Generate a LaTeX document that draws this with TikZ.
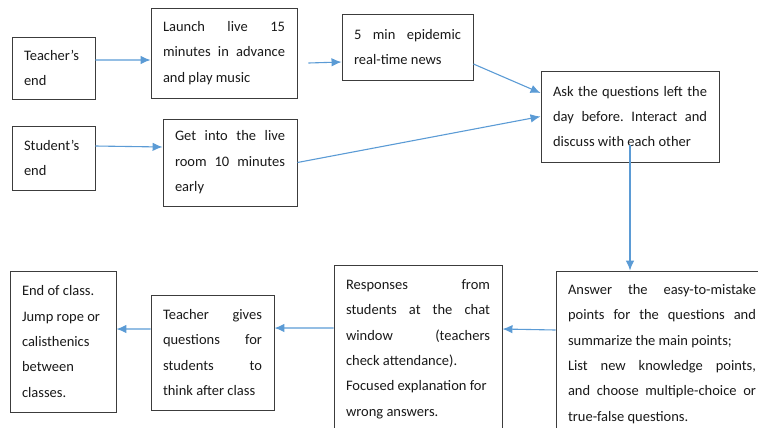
\documentclass[tikz,border=0pt]{standalone}
\usepackage{fontspec}
\setmainfont{Carlito}
\usepackage{tikz}
\usetikzlibrary{positioning}
\usetikzlibrary{arrows.meta}
\tikzset{>={Latex[width=8.5bp,length=10bp]}}
\definecolor{arrowblue}{HTML}{5B9BD5}
\definecolor{boxline}{HTML}{3C3C3C}
\tolerance=10000 \hbadness=10000
\hyphenpenalty=10000 \exhyphenpenalty=10000
\frenchspacing
\tikzset{
  flowbox/.style={draw=boxline, line width=.9bp, align=justify, inner xsep=12bp,
    inner ysep=0pt, text=black!90, font=\fontsize{14.5bp}{25.4bp}\selectfont},
  flowline/.style={draw=arrowblue, line width=1.1bp, ->}
}

\begin{document}
\begin{tikzpicture}[x=1bp, y=-1bp]
\useasboundingbox (0,0) rectangle (758,427);
\clip (0,0) rectangle (758,427);

% top row
\node (teacher) [flowbox, text width=59bp, minimum height=62bp] at (53.5,68) {Teacher’s\\end};
\node (launch) [flowbox, text width=122bp, minimum height=90bp] at (224,53) {Launch live 15\linebreak minutes in advance\linebreak and play music};
\node (news) [flowbox, text width=107bp, minimum height=66bp] at (407.5,47) {5 min epidemic\linebreak real-time news};
\node (ask) [flowbox, text width=154bp, minimum height=91bp] at (630,116.5) {Ask the questions left the\linebreak day before. Interact and\linebreak discuss with each other};
\node (student) [flowbox, text width=59bp, minimum height=64bp] at (53.5,158) {Student’s\\end};
\node (room) [flowbox, text width=110bp, minimum height=87bp] at (230,162.5) {Get into the live\linebreak room 10 minutes\linebreak early};

% bottom row
\node (answer) [flowbox, text width=188bp, minimum height=166bp] at (662,354) {Answer the easy-to-mistake\linebreak points for the questions and\linebreak summarize the main points;\\List new knowledge points,\linebreak and choose multiple-choice or\linebreak true-false questions.};
\node (resp) [flowbox, text width=144bp, minimum height=168bp] at (418,349) {Responses from\linebreak students at the chat\linebreak window (teachers\linebreak check attendance).\\Focused explanation for\\wrong answers.};
\node (gives) [flowbox, text width=99bp, minimum height=115bp] at (212.5,352.5) {Teacher gives\linebreak questions for\linebreak students to\linebreak think after class};
\node (endcls) [flowbox, text width=82bp, minimum height=141bp] at (63,341.5) {End of class.\\Jump rope or\\calisthenics\\between\\classes.};

\path [flowline] ([yshift=8bp]teacher.east) -- ([yshift=-7bp]launch.west);
\path [flowline] ([xshift=11bp,yshift=-10bp]launch.east) -- ([yshift=-15bp]news.west);
\path [flowline] ([yshift=-17bp]news.east) -- ([yshift=23.5bp]ask.west);
\path [flowline] ([yshift=12bp]student.east) -- ([yshift=15.5bp]room.west);
\path [flowline] (room.east) -- (ask.west);
\path [flowline] ([yshift=-28bp]ask.center) -- (ask.center |- answer.north);
\path [flowline] ([yshift=24bp]answer.west) -- ([yshift=20bp]resp.east);
\path [flowline] ([yshift=21bp]resp.west) -- ([yshift=24.5bp]gives.east);
\path [flowline] ([yshift=23.5bp]gives.west) -- ([yshift=12.5bp]endcls.east);
\end{tikzpicture}
\end{document}
